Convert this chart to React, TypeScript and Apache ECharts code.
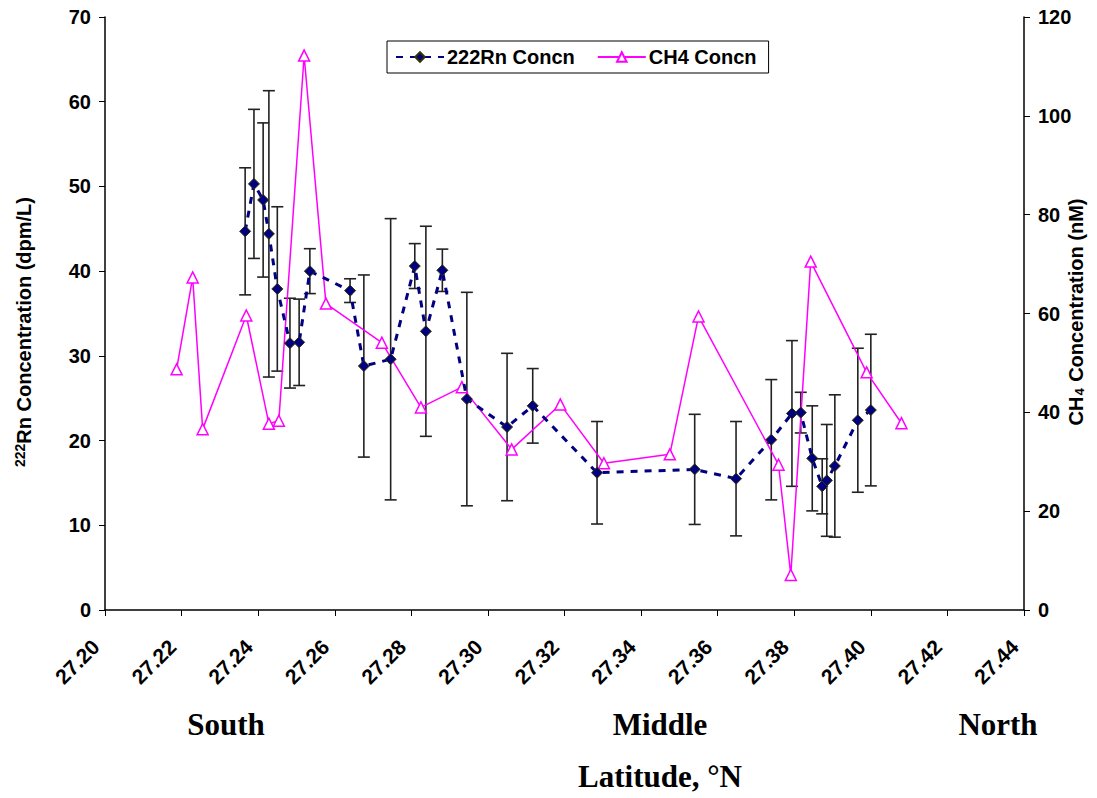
import React, { useEffect, useRef } from "react";
import * as echarts from "echarts";

// Latitude (°N) of each radon station, its concentration (dpm/L) and ± error
const rnLat = [27.2366, 27.2389, 27.2413, 27.2428, 27.245, 27.2483, 27.2507, 27.2535, 27.264, 27.2676, 27.2746, 27.2809, 27.2838, 27.2881, 27.2945, 27.305, 27.3117, 27.3285, 27.354, 27.3648, 27.374, 27.3794, 27.3817, 27.3847, 27.3873, 27.3885, 27.3906, 27.3966, 27.4];
const rnConc = [44.7, 50.3, 48.4, 44.4, 37.9, 31.5, 31.6, 40.0, 37.7, 28.8, 29.6, 40.6, 32.9, 40.1, 24.9, 21.6, 24.1, 16.2, 16.6, 15.5, 20.1, 23.2, 23.3, 17.9, 14.6, 15.3, 17.0, 22.4, 23.6];
const rnErr = [7.5, 8.8, 9.1, 16.9, 9.7, 5.3, 5.1, 2.65, 1.4, 10.75, 16.6, 2.65, 12.4, 2.5, 12.6, 8.7, 4.4, 6.05, 6.5, 6.75, 7.1, 8.6, 2.4, 6.2, 3.25, 6.6, 8.4, 8.5, 8.95];

// Methane stations: latitude (°N) and concentration (nM)
const ch4Lat = [27.2187, 27.2229, 27.2255, 27.2369, 27.2428, 27.2454, 27.252, 27.2577, 27.2723, 27.2825, 27.2932, 27.3062, 27.3189, 27.3303, 27.3475, 27.355, 27.3759, 27.3791, 27.3843, 27.3989, 27.408];
const ch4Conc = [48.7, 67.3, 36.6, 59.6, 37.7, 38.3, 112.2, 62.0, 54.1, 41.0, 45.1, 32.5, 41.6, 29.7, 31.5, 59.4, 29.4, 7.1, 70.5, 48.1, 37.8];

const regionLabels = ["South", "Middle", "North"];

const AXIS = "#000";
const FONT = "Liberation Sans, Arial, sans-serif";
const SERIF = "Liberation Serif, Times New Roman, serif";

export default function App() {
  const ref = useRef<HTMLDivElement>(null);

  useEffect(() => {
    const chart = echarts.init(ref.current!, null, { renderer: "svg" });

    const rnData = rnLat.map((x, i) => [x, rnConc[i]]);
    const errData = rnLat.map((x, i) => [x, rnConc[i] - rnErr[i], rnConc[i] + rnErr[i]]);
    const ch4Data = ch4Lat.map((x, i) => [x, ch4Conc[i]]);

    const regionX = [226, 660, 998];
    const regionText = regionLabels.map((t, i) => ({
      type: "text",
      x: regionX[i],
      y: 724,
      style: {
        text: t,
        font: `bold 31px ${SERIF}`,
        fill: "#000",
        align: "center",
        verticalAlign: "middle",
      },
    }));

    const tickLabel = { fontFamily: FONT, fontWeight: "bold", fontSize: 20, color: "#000" };

    chart.setOption({
      animation: false,
      backgroundColor: "#fff",
      grid: { left: 105, right: 73, top: 17, bottom: 188 },
      legend: {
        left: 387,
        top: 41,
        padding: [6, 12, 6, 8],
        borderColor: "#000",
        borderWidth: 1,
        itemWidth: 48,
        itemHeight: 12,
        itemGap: 22,
        textStyle: { fontFamily: FONT, fontWeight: "bold", fontSize: 20, color: "#000", padding: [0, 0, 0, -2] },
        data: ["222Rn Concn", "CH4 Concn"],
      },
      xAxis: {
        type: "value",
        min: 27.2,
        max: 27.44,
        interval: 0.02,
        splitLine: { show: false },
        axisLine: { onZero: false, lineStyle: { color: AXIS, width: 1.5 } },
        axisTick: { show: true, length: 6, lineStyle: { color: AXIS } },
        axisLabel: {
          ...tickLabel,
          fontSize: 21,
          rotate: 45,
          margin: 24,
          padding: [0, 13, 0, 0],
          formatter: (v: number) => v.toFixed(2),
        },
      },
      yAxis: [
        {
          type: "value",
          min: 0,
          max: 70,
          interval: 10,
          splitLine: { show: false },
          axisLine: { show: true, lineStyle: { color: AXIS, width: 1.5 } },
          axisTick: { show: true, length: 6, lineStyle: { color: AXIS } },
          axisLabel: { ...tickLabel, margin: 14 },
        },
        {
          type: "value",
          min: 0,
          max: 120,
          interval: 20,
          position: "right",
          splitLine: { show: false },
          axisLine: { show: true, lineStyle: { color: AXIS, width: 1.5 } },
          axisTick: { show: true, length: 6, lineStyle: { color: AXIS } },
          axisLabel: { ...tickLabel, margin: 14 },
        },
      ],
      series: [
        {
          name: "Rn error",
          type: "custom",
          yAxisIndex: 0,
          z: 1,
          data: errData,
          renderItem: (params: any, api: any) => {
            const x = api.value(0);
            const lo = api.coord([x, api.value(1)]);
            const hi = api.coord([x, api.value(2)]);
            const cap = 6;
            const style = { stroke: "#222", lineWidth: 1.6 };
            return {
              type: "group",
              children: [
                { type: "line", shape: { x1: lo[0], y1: lo[1], x2: hi[0], y2: hi[1] }, style },
                { type: "line", shape: { x1: lo[0] - cap, y1: lo[1], x2: lo[0] + cap, y2: lo[1] }, style },
                { type: "line", shape: { x1: hi[0] - cap, y1: hi[1], x2: hi[0] + cap, y2: hi[1] }, style },
              ],
            };
          },
        },
        {
          name: "222Rn Concn",
          type: "line",
          yAxisIndex: 0,
          z: 3,
          data: rnData,
          symbol: "diamond",
          symbolSize: 11,
          lineStyle: { color: "#000080", width: 3, type: [7, 7] },
          itemStyle: { color: "#000080", borderColor: "#333300", borderWidth: 1 },
        },
        {
          name: "CH4 Concn",
          type: "line",
          yAxisIndex: 1,
          z: 2,
          data: ch4Data,
          symbol: "triangle",
          symbolSize: 11,
          lineStyle: { color: "#ff00ff", width: 1.5 },
          itemStyle: { color: "#fff", borderColor: "#ff00ff", borderWidth: 1.5 },
        },
      ],
      graphic: [
        {
          type: "text",
          x: 24,
          y: 332,
          rotation: Math.PI / 2,
          style: {
            text: "{s|222}{t|Rn Concentration (dpm/L)}",
            align: "center",
            verticalAlign: "middle",
            fill: "#000",
            rich: {
              s: { font: `bold 14px ${FONT}`, fill: "#000", verticalAlign: "top", padding: [0, 0, 9, 0] },
              t: { font: `bold 20px ${FONT}`, fill: "#000" },
            },
          },
        },
        {
          type: "text",
          x: 1076,
          y: 312,
          rotation: Math.PI / 2,
          style: {
            text: "{t|CH}{s|4}{t| Concentration (nM)}",
            align: "center",
            verticalAlign: "middle",
            fill: "#000",
            rich: {
              s: { font: `bold 13px ${FONT}`, fill: "#000", verticalAlign: "bottom", padding: [6, 1, 0, 1] },
              t: { font: `bold 20px ${FONT}`, fill: "#000" },
            },
          },
        },
        ...regionText,
        {
          type: "text",
          x: 660,
          y: 776,
          style: {
            text: "Latitude, °N",
            font: `bold 31px ${SERIF}`,
            fill: "#000",
            align: "center",
            verticalAlign: "middle",
          },
        },
      ],
    });

    return () => chart.dispose();
  }, []);

  return <div ref={ref} style={{ width: 1097, height: 798, position: "absolute", left: 0, top: 0 }} />;
}
